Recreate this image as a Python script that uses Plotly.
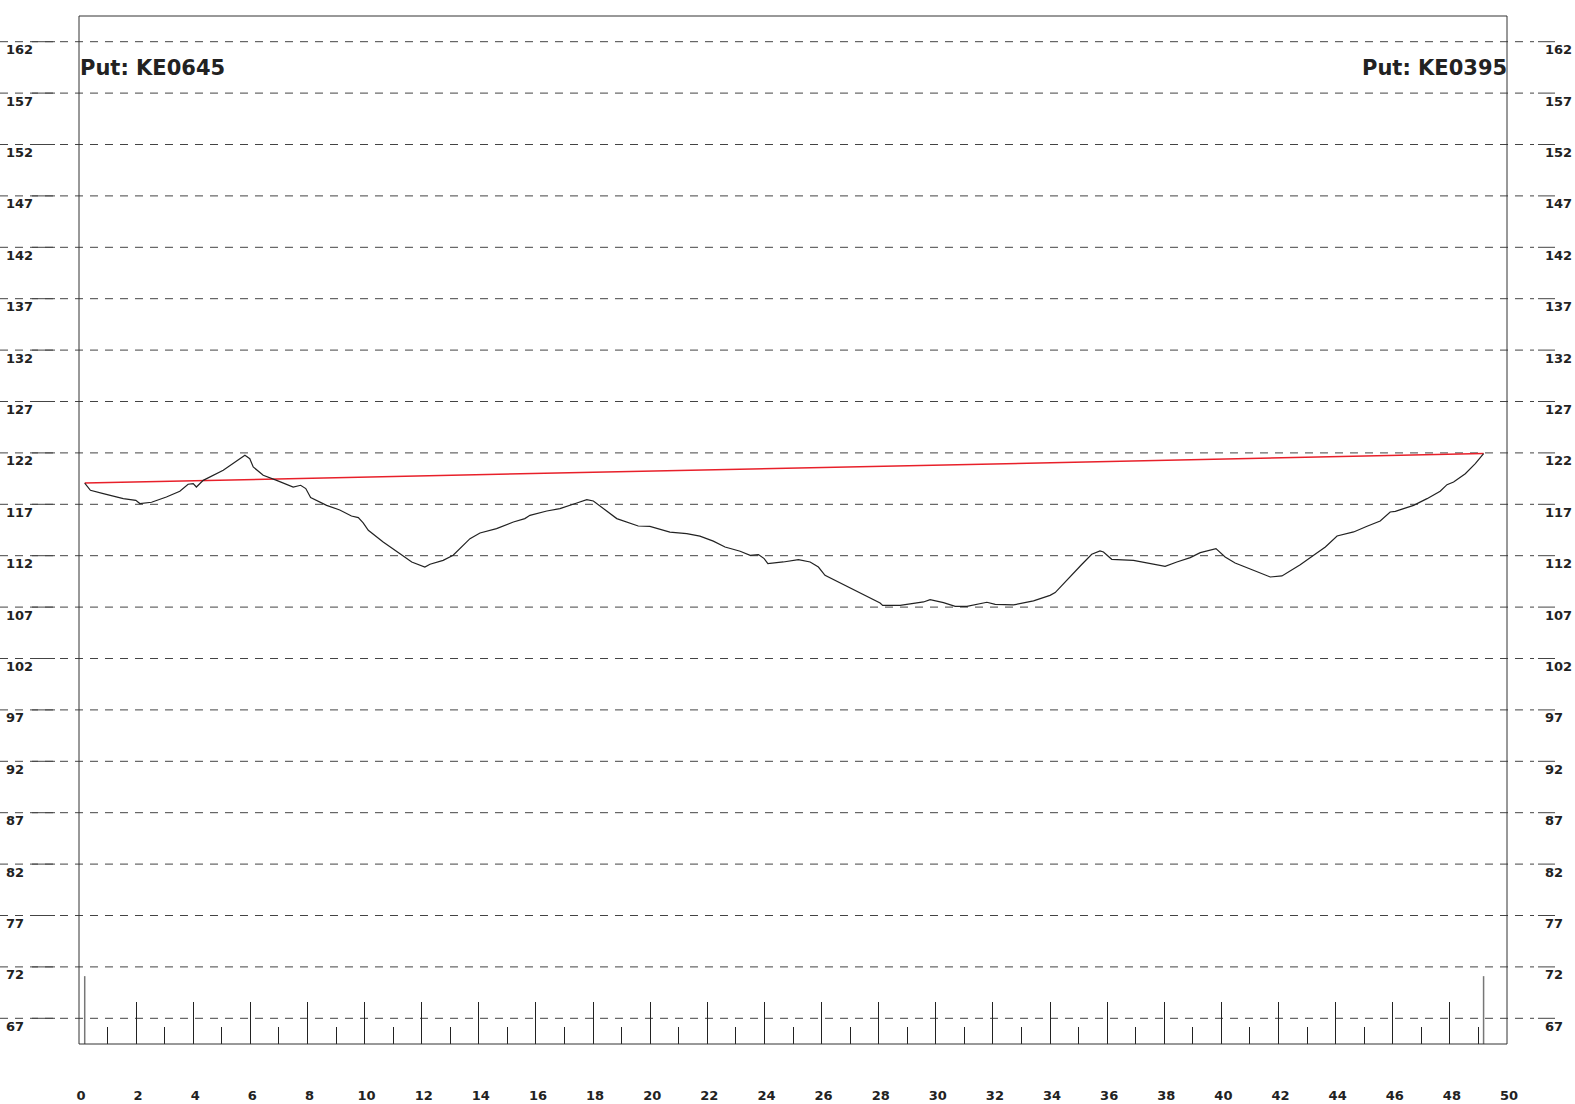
import plotly.graph_objects as go

# Profile data (distance in km, elevation)
km = [0.20, 0.40, 0.85, 1.55, 1.99, 2.13, 2.54, 3.06, 3.53, 3.82, 4.00, 4.11, 4.35, 5.05,
      5.81, 5.98, 6.10, 6.45, 6.92, 7.50, 7.76, 7.94, 8.11, 8.67, 9.13, 9.54, 9.78, 9.95,
      10.13, 10.65, 11.24, 11.65, 12.11, 12.29, 12.75, 13.10, 13.69, 14.04, 14.62, 15.21,
      15.61, 15.79, 16.38, 16.84, 17.43, 17.78, 18.01, 18.36, 18.83, 19.58, 19.99, 20.69,
      21.28, 21.74, 22.21, 22.62, 23.15, 23.50, 23.79, 23.99, 24.12, 24.66, 25.19, 25.60,
      25.89, 26.12, 26.88, 28.05, 28.14, 28.75, 29.57, 29.80, 30.27, 30.68, 31.09, 31.79,
      32.08, 32.72, 33.42, 33.65, 34.00, 34.18, 34.59, 35.10, 35.46, 35.75, 35.87, 36.16,
      36.92, 37.51, 38.03, 38.44, 38.91, 39.26, 39.61, 39.81, 40.13, 40.48, 41.12, 41.71,
      42.12, 42.76, 43.23, 43.64, 44.05, 44.63, 45.10, 45.56, 45.91, 46.09, 46.38, 46.73,
      47.20, 47.66, 47.90, 48.13, 48.54, 48.89, 49.18]
elev = [119.07, 118.36, 118.04, 117.55, 117.39, 117.07, 117.20, 117.71, 118.27, 118.95, 119.01,
        118.68, 119.33, 120.31, 121.77, 121.44, 120.63, 119.82, 119.33, 118.68, 118.85, 118.53,
        117.65, 116.90, 116.45, 115.86, 115.70, 115.20, 114.47, 113.33, 112.20, 111.39, 110.90,
        111.17, 111.55, 112.04, 113.66, 114.21, 114.64, 115.28, 115.61, 115.93, 116.35, 116.58,
        117.13, 117.46, 117.32, 116.58, 115.61, 114.89, 114.86, 114.30, 114.15, 113.90, 113.42,
        112.85, 112.43, 112.04, 112.11, 111.72, 111.23, 111.39, 111.62, 111.39, 110.90, 110.09,
        109.02, 107.40, 107.17, 107.17, 107.50, 107.73, 107.44, 107.08, 107.08, 107.47, 107.27,
        107.21, 107.60, 107.83, 108.14, 108.41, 109.65, 111.12, 112.14, 112.46, 112.36, 111.65,
        111.55, 111.23, 110.97, 111.39, 111.81, 112.30, 112.53, 112.69, 111.87, 111.29, 110.58,
        109.93, 110.03, 111.13, 112.04, 112.85, 113.92, 114.31, 114.86, 115.38, 116.25, 116.32,
        116.58, 116.90, 117.55, 118.27, 118.91, 119.17, 119.98, 120.96, 121.93]

y_ticks = [67, 72, 77, 82, 87, 92, 97, 102, 107, 112, 117, 122, 127, 132, 137, 142, 147, 152, 157, 162]
x_ticks = list(range(0, 51, 2))
y_range = [64.5, 164.5]
x_range = [0, 50]
marker_top = 71.1
start_label = "Put: KE0645"
end_label = "Put: KE0395"

W, H = 1575, 1104
L, R, T, B = 79, 68, 16, 60
PW = W - L - R

FONT = "DejaVu Sans"
TXT = "#222222"
GRID = "#444444"

fig = go.Figure()

# start / end markers at bottom
for xv in (km[0], km[-1]):
    fig.add_trace(go.Scatter(x=[xv, xv], y=[y_range[0], marker_top], mode="lines",
                             line=dict(color="#777777", width=1.5), hoverinfo="skip", showlegend=False))

# straight line between endpoints
fig.add_trace(go.Scatter(x=[km[0], km[-1]], y=[elev[0], elev[-1]], mode="lines",
                         line=dict(color="#e8202a", width=1.5), showlegend=False))

# profile
fig.add_trace(go.Scatter(x=km, y=elev, mode="lines",
                         line=dict(color="#222222", width=1.2), showlegend=False))

shapes = []
annotations = []
for v in y_ticks:
    shapes.append(dict(type="line", xref="paper", yref="y", x0=-L / PW, x1=(1534 - L) / PW,
                       y0=v, y1=v, line=dict(color=GRID, width=1, dash="8px,7px"), layer="below"))
    shapes.append(dict(type="line", xref="paper", yref="y", x0=(32 - L) / PW, x1=(55 - L) / PW,
                       y0=v, y1=v, line=dict(color=GRID, width=1), layer="below"))
    shapes.append(dict(type="line", xref="paper", yref="y", x0=(1538 - L) / PW, x1=(1555 - L) / PW,
                       y0=v, y1=v, line=dict(color=GRID, width=1), layer="below"))
    annotations.append(dict(x=(4 - L) / PW, xref="paper", y=v, yref="y", text=str(v), showarrow=False,
                            xanchor="left", yanchor="middle", yshift=-8,
                            font=dict(family=FONT, size=13, color=TXT, weight="bold")))
    annotations.append(dict(x=(1543 - L) / PW, xref="paper", y=v, yref="y", text=str(v), showarrow=False,
                            xanchor="left", yanchor="middle", yshift=-8,
                            font=dict(family=FONT, size=13, color=TXT, weight="bold")))

# frame
shapes.append(dict(type="rect", xref="paper", yref="paper", x0=0, x1=1, y0=0, y1=1,
                   line=dict(color="#333333", width=1)))

annotations.append(dict(x=0, xref="paper", y=(H - B - 68) / (H - T - B), yref="paper", text=start_label,
                        showarrow=False, xanchor="left", yanchor="middle", xshift=-1,
                        font=dict(family=FONT, size=21, color=TXT, weight="bold")))
annotations.append(dict(x=1, xref="paper", y=(H - B - 68) / (H - T - B), yref="paper", text=end_label,
                        showarrow=False, xanchor="right", yanchor="middle", xshift=2,
                        font=dict(family=FONT, size=21, color=TXT, weight="bold")))

fig.update_layout(
    width=W, height=H,
    margin=dict(l=L, r=R, t=T, b=B, pad=0, autoexpand=False),
    paper_bgcolor="white", plot_bgcolor="white",
    shapes=shapes, annotations=annotations,
    xaxis=dict(range=x_range, tickvals=x_ticks, ticks="inside", ticklen=42, tickwidth=1,
               tickcolor="#222222", showgrid=False, zeroline=False, showline=False,
               automargin=False,
               ticklabelstandoff=42, ticklabelshift=2,
               tickfont=dict(family=FONT, size=13, color=TXT, weight="bold"),
               minor=dict(dtick=1, tick0=0, ticks="inside", ticklen=17, tickwidth=1,
                          tickcolor="#222222", showgrid=False)),
    yaxis=dict(range=y_range, showticklabels=False, ticks="", showgrid=False,
               zeroline=False, showline=False, automargin=False),
)

fig.write_html("out.html", config={"displayModeBar": False},
               post_script="document.body.style.margin='0';document.body.style.overflow='hidden';")
